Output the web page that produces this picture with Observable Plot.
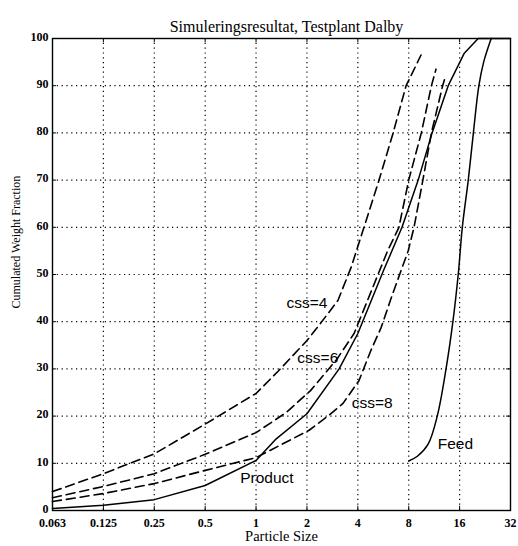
<!DOCTYPE html>
<html>
<head>
<meta charset="utf-8">
<script src="https://cdn.jsdelivr.net/npm/d3@7"></script>
<script src="https://cdn.jsdelivr.net/npm/@observablehq/plot@0.6"></script>
<style>
  html, body { margin: 0; padding: 0; background: #fff; }
</style>
</head>
<body>
<div id="chart"></div>
<script>
// ---- data ----
const xTicks = [0.0625, 0.125, 0.25, 0.5, 1, 2, 4, 8, 16, 32];
const xTickLabels = ["0.063", "0.125", "0.25", "0.5", "1", "2", "4", "8", "16", "32"];
const yTicks = [0, 10, 20, 30, 40, 50, 60, 70, 80, 90, 100];

const feedSize  = [8.0, 9.0, 10.4, 11.8, 13.3, 14.6, 15.7, 16.6, 18.0, 19.3, 20.8, 22.2, 24.6];
const feedValue = [10.5, 11.5, 14.0, 20.0, 30.0, 40.0, 50.0, 60.0, 70.0, 80.0, 90.0, 95.0, 100];

const productSize  = [0.0625, 0.125, 0.25, 0.5, 1, 1.3, 2, 3.1, 4, 5.7, 7.3, 9.1, 11.0, 13.7, 17.0, 20.6, 32];
const productValue = [0.4, 1.1, 2.3, 5.3, 10.6, 15, 20.5, 30, 37.5, 51, 60, 70, 80, 90, 96.8, 100, 100];

const css4Size  = [0.0625, 0.125, 0.25, 0.5, 1, 1.35, 2, 2.4, 3.05, 3.65, 4.35, 5.34, 6.47, 7.72, 9.46];
const css4Value = [4.0, 7.8, 12.0, 18.3, 24.8, 29.5, 36, 39.6, 44.5, 51.5, 60, 70, 80, 90, 96.5];

const css6Size  = [0.0625, 0.125, 0.25, 0.5, 1, 1.5, 2.1, 3.0, 3.8, 6.0, 7.0, 8.0, 9.5, 10.9, 11.6];
const css6Value = [2.7, 5.1, 7.8, 11.9, 16.5, 20.7, 25.4, 32, 37.5, 55, 60, 70, 80, 90, 93.5];

const css8Size  = [0.0625, 0.125, 0.25, 0.5, 1, 2.06, 2.66, 3.27, 4.06, 4.79, 5.5, 6.3, 7.2, 7.94, 8.6, 9.7, 10.9, 12.7, 13.2];
const css8Value = [1.9, 3.6, 5.7, 8.5, 11.2, 17, 20, 22.7, 27.5, 34, 38.8, 45, 50.8, 55, 60, 70, 80, 90, 92];

const labelText  = ["css=4", "css=6", "css=8", "Feed", "Product"];
const labelSize  = [2.0, 2.32, 4.86, 15.1, 1.16];
const labelValue = [44, 32.4, 22.7, 14, 6.8];

const titleText = "Simuleringsresultat, Testplant Dalby";
const xLabel = "Particle Size";
const yLabel = "Cumulated Weight Fraction";

// ---- build tables ----
function rows(name, sizes, values) {
  return sizes.map((s, i) => ({series: name, size: s, value: values[i]}));
}
const feedRows = rows("Feed", feedSize, feedValue);
const productRows = rows("Product", productSize, productValue);
const dashedRows = [
  ...rows("css=4", css4Size, css4Value),
  ...rows("css=6", css6Size, css6Value),
  ...rows("css=8", css8Size, css8Value)
];
const labels = labelText.map((t, i) => ({text: t, size: labelSize[i], value: labelValue[i]}));

const xMin = xTicks[0], xMax = xTicks[xTicks.length - 1];
const xTickLen = 1.055; // multiplicative (log scale) tick length
const yTickLen = 0.9;

const serif = "'Liberation Serif', 'Times New Roman', serif";
const sans = "'Liberation Sans', Arial, sans-serif";

const chart = Plot.plot({
  width: 518,
  height: 546,
  marginLeft: 52,
  marginRight: 8,
  marginTop: 38,
  marginBottom: 36,
  style: {fontFamily: serif, fontSize: "12px", fontWeight: "bold", color: "black", background: "white"},
  x: {type: "log", base: 2, domain: [xMin, xMax], label: null},
  y: {domain: [0, 100], label: null},
  marks: [
    // dotted grid
    Plot.ruleX(xTicks.slice(1, -1), {x: d => d, stroke: "black", strokeWidth: 1.2, strokeDasharray: "1.2,3.6"}),
    Plot.ruleY(yTicks.slice(1, -1), {y: d => d, stroke: "black", strokeWidth: 1.2, strokeDasharray: "1.2,3.6"}),
    // inward ticks
    Plot.ruleX(xTicks, {x: d => d, y1: 0, y2: yTickLen, stroke: "black", strokeWidth: 1}),
    Plot.ruleX(xTicks, {x: d => d, y1: 100 - yTickLen, y2: 100, stroke: "black", strokeWidth: 1}),
    Plot.ruleY(yTicks, {y: d => d, x1: xMin, x2: xMin * xTickLen, stroke: "black", strokeWidth: 1}),
    Plot.ruleY(yTicks, {y: d => d, x1: xMax / xTickLen, x2: xMax, stroke: "black", strokeWidth: 1}),
    // axes
    Plot.axisX(xTicks, {tickSize: 0, tickPadding: 7.5, tickFormat: d => xTickLabels[xTicks.indexOf(d)], label: null}),
    Plot.axisY(yTicks, {tickSize: 0, tickPadding: 4, dy: -1.5, label: null}),
    // curves
    Plot.line(feedRows, {x: "size", y: "value", stroke: "black", strokeWidth: 1.5, curve: "catmull-rom"}),
    Plot.line(productRows, {x: "size", y: "value", stroke: "black", strokeWidth: 1.5}),
    Plot.line(dashedRows, {x: "size", y: "value", z: "series", stroke: "black", strokeWidth: 1.6, strokeDasharray: "9,5"}),
    // frame
    Plot.frame({stroke: "black", strokeWidth: 1.4}),
    // curve labels
    Plot.text(labels, {x: "size", y: "value", text: "text", fontFamily: sans, fontWeight: "normal", fontSize: 15.5, fill: "black"}),
    // title & axis labels
    Plot.text([titleText], {text: d => d, frameAnchor: "top", dx: 5, dy: -18, fontSize: 16, fontWeight: "normal"}),
    Plot.text([xLabel], {text: d => d, frameAnchor: "bottom", dy: 30.5, fontSize: 14.5, fontWeight: "normal"}),
    Plot.text([yLabel], {text: d => d, frameAnchor: "left", dx: -36, dy: 34, rotate: -90, fontSize: 12, fontWeight: "normal"})
  ]
});
document.getElementById("chart").appendChild(chart);
</script>
</body>
</html>
